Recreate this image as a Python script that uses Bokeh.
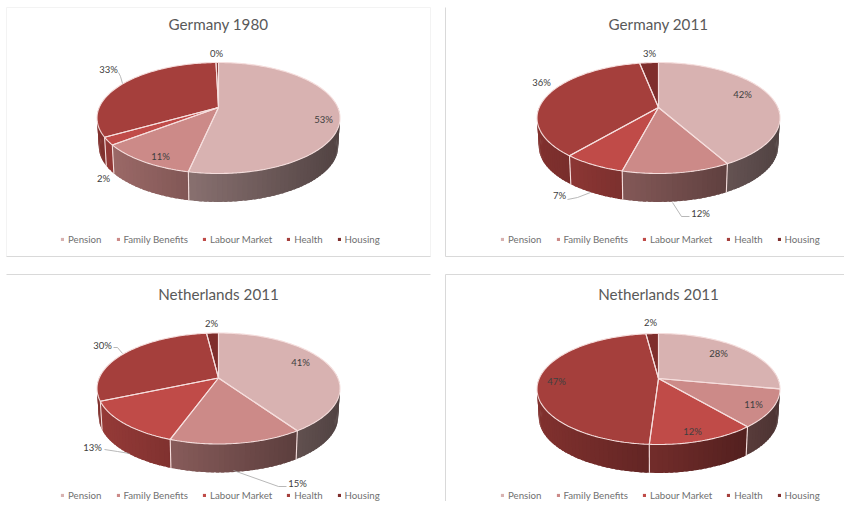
import math
from bokeh.embed import file_html
from bokeh.layouts import column, row
from bokeh.models import Legend, LegendItem, Range1d
from bokeh.plotting import figure
from bokeh.resources import INLINE

# ---------- data ----------
categories = ["Pension", "Family Benefits", "Labour Market", "Health", "Housing"]
germany_1980 = [53.3, 11.1, 2.2, 33.0, 0.4]
germany_2011 = [42.0, 12.0, 7.0, 36.0, 3.0]
netherlands_2011_a = [40.6, 14.8, 13.0, 29.7, 1.9]
netherlands_2011_b = [28.0, 11.0, 12.0, 47.0, 2.0]
titles = ["Germany 1980", "Germany 2011", "Netherlands 2011", "Netherlands 2011"]

# ---------- styling / layout ----------
colors = ["#d8b2b1", "#cc8a88", "#c04b48", "#a53f3c", "#7f2e2c"]
EDGE = "#f5dedd"
BORDER = "#d9d9d9"
FAINT = "#f3f3f3"
FONT = "Lato"
PERSP = 0.189      # perspective of the pie's tilted disc
RADIUS = 119.3
TILT = 53.5
DEPTH = 28.5

panels = [
    dict(values=germany_1980, title=titles[0], xr=(0, 438), yr=(0, 265), cx=218, cy=107,
         title_y=23.5, legend_x=60, legend_y=20,
         box=[([(6, 7), (430, 7), (430, 256)], FAINT), ([(6, 7), (6, 256)], FAINT),
              ([(6, 256), (430, 256)], BORDER)],
         labels=[(323, 119), (160, 156), (103, 178), (108, 69), (216, 53)],
         leaders=[[(118, 72), (120, 76), (122, 83)]]),
    dict(values=germany_2011, title=titles[1], xr=(438, 844), yr=(0, 265), cx=658, cy=107,
         title_y=23.5, legend_x=62, legend_y=20,
         box=[([(445, 7), (445, 256), (844, 256)], BORDER)],
         labels=[(742, 94), (700, 213), (559, 195), (541, 82), (649, 53)],
         leaders=[[(567, 199), (577, 197), (590, 192)], [(672, 202), (681, 216), (689, 216)]]),
    dict(values=netherlands_2011_a, title=titles[2], xr=(0, 438), yr=(265, 501), cx=218, cy=377.5,
         title_y=293.5, legend_x=60, legend_y=0,
         box=[([(6, 274), (430, 274)], BORDER)],
         labels=[(300, 362), (297, 483), (92, 447), (102, 345), (211, 323)],
         leaders=[[(104, 449), (117, 451), (129, 453)], [(233, 470), (278, 486), (286, 486)],
                  [(113, 347), (117, 347), (122, 353)]]),
    dict(values=netherlands_2011_b, title=titles[3], xr=(438, 844), yr=(265, 501), cx=658, cy=378,
         title_y=293.5, legend_x=62, legend_y=0,
         box=[([(445, 501), (445, 274), (844, 274)], BORDER)],
         labels=[(718, 353), (753, 404), (692, 431), (556, 381), (650, 322)],
         leaders=[]),
]


def rim(cx, cy, theta, depth=0.0, scale=1.0):
    """Project a point of the pie's rim (theta clockwise from 12 o'clock)."""
    u, v = math.sin(theta), math.cos(theta)
    w = 1 + PERSP * v
    return cx + scale * RADIUS * u / w, cy - TILT * v / w + depth


def hex_rgb(h):
    return tuple(int(h[i:i + 2], 16) for i in (1, 3, 5))


def shade(base, x, cx):
    f = 0.58 - 0.20 * (x - cx) / RADIUS
    r, g, b = hex_rgb(base)
    return "#%02x%02x%02x" % (int(r * f), int(g * f), int(b * f))


def make_panel(cfg):
    p = figure(width=cfg["xr"][1] - cfg["xr"][0], height=cfg["yr"][1] - cfg["yr"][0],
               x_range=Range1d(*cfg["xr"]), y_range=Range1d(cfg["yr"][1], cfg["yr"][0]),
               x_axis_location=None, y_axis_location=None, toolbar_location=None,
               output_backend="svg", min_border=0, outline_line_color=None,
               background_fill_color="white", border_fill_color="white")
    p.grid.visible = False

    for seg, col in cfg["box"]:
        p.line([c[0] for c in seg], [c[1] for c in seg], line_color=col, line_width=1)

    cx, cy = cfg["cx"], cfg["cy"]
    total = sum(cfg["values"])
    edges = [0.0]
    for val in cfg["values"]:
        edges.append(edges[-1] + val / total * 2 * math.pi)

    # side wall, as thin strips shaded from left to right
    xs, ys, fills = [], [], []
    for i, base in enumerate(colors):
        a0, a1 = edges[i], edges[i + 1]
        n = max(2, int((a1 - a0) / math.radians(2)))
        step = (a1 - a0) / n
        for j in range(n):
            t0 = a0 + step * j
            t1 = t0 + step
            if math.cos((t0 + t1) / 2) > 0.1:
                continue
            t_back = max(a0, t0 - step * 0.6)   # overlap the previous strip, no hairline gaps
            p0, p1 = rim(cx, cy, t_back), rim(cx, cy, t1)
            q1, q0 = rim(cx, cy, t1, DEPTH, 0.985), rim(cx, cy, t_back, DEPTH, 0.985)
            xs.append([p0[0], p1[0], q1[0], q0[0]])
            ys.append([p0[1], p1[1], q1[1], q0[1]])
            fills.append(shade(base, (rim(cx, cy, t0)[0] + p1[0]) / 2, cx))
    p.patches(xs, ys, fill_color=fills, line_color=None)

    # seams on the wall
    for a in edges[1:-1]:
        if math.cos(a) < -PERSP:
            t, b = rim(cx, cy, a), rim(cx, cy, a, DEPTH, 0.985)
            p.line([t[0], b[0]], [t[1], b[1]], line_color=EDGE, line_width=1.1)

    # top faces
    items, outlines = [], []
    for i, base in enumerate(colors):
        a0, a1 = edges[i], edges[i + 1]
        n = max(2, int((a1 - a0) / math.radians(1)))
        pts = [rim(cx, cy, a0 + (a1 - a0) * j / n) for j in range(n + 1)]
        px = [cx] + [c[0] for c in pts]
        py = [cy] + [c[1] for c in pts]
        r = p.patch(px, py, fill_color=base, line_color=None)
        items.append(LegendItem(label=categories[i], renderers=[r]))
        outlines.append((px + [cx], py + [cy]))
    for ox, oy in outlines:
        p.line(ox, oy, line_color=EDGE, line_width=1.1)

    # leaders
    for seg in cfg["leaders"]:
        p.line([c[0] for c in seg], [c[1] for c in seg], line_color="#a6a6a6", line_width=0.8)

    # percent labels
    p.text([c[0] for c in cfg["labels"]], [c[1] for c in cfg["labels"]],
           text=["%d%%" % round(val) for val in cfg["values"]],
           text_font={"value": FONT}, text_font_size="9.5px", text_color="#404040",
           text_align="center", text_baseline="middle")

    # title
    p.text([cx], [cfg["title_y"]], text=[cfg["title"]], text_font={"value": FONT},
           text_font_size="15.2px", text_color="#595959", text_align="center",
           text_baseline="middle")

    legend = Legend(items=items, orientation="horizontal",
                    location=(cfg["legend_x"], cfg["legend_y"]),
                    glyph_width=4, glyph_height=4, label_standoff=4, spacing=14,
                    padding=0, margin=0, border_line_color=None, background_fill_alpha=0,
                    label_text_font=FONT, label_text_font_size="9.7px",
                    label_text_color="#707070", label_height=10,
                    label_text_baseline="middle")
    p.add_layout(legend, "center")
    return p


figs = [make_panel(c) for c in panels]
page = column(row(figs[0], figs[1], spacing=0), row(figs[2], figs[3], spacing=0), spacing=0)
open("out.html", "w").write(file_html(page, INLINE))
